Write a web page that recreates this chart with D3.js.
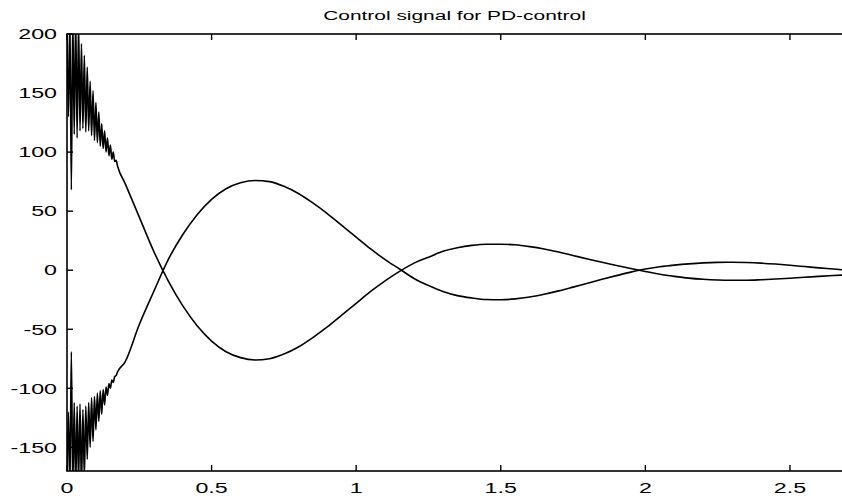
<!DOCTYPE html>
<html>
<head>
<meta charset="utf-8">
<script src="https://cdn.jsdelivr.net/npm/d3@7"></script>
<style>
  body { margin: 0; background: #fff; }
  text { font-family: "Liberation Sans", Arial, sans-serif; fill: #000; }
</style>
</head>
<body>
<svg id="chart" width="842" height="499"></svg>
<script>
// tick labels
const xTicks = [0, 0.5, 1, 1.5, 2, 2.5];
const yTicks = [-150, -100, -50, 0, 50, 100, 150, 200];

// noisy start of the signal (t = 0 .. 0.175)
const tEarly = [0, 0.005, 0.01, 0.015, 0.02, 0.025, 0.03, 0.035, 0.04, 0.045,
    0.05, 0.055, 0.06, 0.065, 0.07, 0.075, 0.08, 0.085, 0.09, 0.095,
    0.1, 0.105, 0.11, 0.115, 0.12, 0.125, 0.13, 0.135, 0.14, 0.145,
    0.15, 0.155, 0.16, 0.165, 0.17, 0.175];
const upperEarly = [215, 130, 215, 68, 215, 115, 215, 112, 210, 118,
    192, 120, 182, 117, 172, 118, 160, 114, 152, 110,
    142, 108, 134, 105, 124, 103, 118, 100, 112, 97,
    106, 94, 100, 92, 93, 88];
const lowerEarly = [-185, -120, -185, -69, -185, -112, -185, -115, -180, -113,
    -185, -118, -175, -115, -160, -112, -150, -108, -145, -107,
    -135, -104, -128, -102, -122, -101, -114, -99, -106, -96,
    -100, -93, -95, -90, -89, -86];

// smooth part (t = 0.20 .. 2.70)
const tSmooth = [0.2, 0.25, 0.3, 0.35, 0.4, 0.45, 0.5, 0.55, 0.6,
    0.65, 0.7, 0.75, 0.8, 0.85, 0.9, 0.95, 1.0, 1.05, 1.1,
    1.15, 1.2, 1.25, 1.3, 1.35, 1.4, 1.45, 1.5, 1.55, 1.6,
    1.65, 1.7, 1.75, 1.8, 1.85, 1.9, 1.95, 2.0, 2.05, 2.1,
    2.15, 2.2, 2.25, 2.3, 2.35, 2.4, 2.45, 2.5, 2.55, 2.6,
    2.65, 2.7];
const upperSmooth = [74, 45, 16, -9, -30, -47, -60, -69, -74,
    -76, -75, -71, -65, -57, -48, -38, -28, -18, -9,
    -1, 6, 11, 16, 19, 21, 22, 22, 21.5, 20,
    18, 15.5, 12.5, 9.5, 6.7, 4, 1.4, -1.1, -3.4, -5.2,
    -6.7, -7.7, -8.3, -8.5, -8.5, -8.1, -7.5, -6.8, -6, -5.2,
    -4.5, -3.9];
const lowerSmooth = [-78, -46, -18, 9, 30, 47, 60, 69, 74,
    76, 75, 71, 65, 57, 48, 38, 28, 18, 9,
    1, -7, -13, -18, -21.5, -23.5, -24.8, -25, -24.3, -22.7,
    -20.3, -17.5, -14.3, -11, -7.7, -4.6, -1.6, 1, 2.9, 4.3,
    5.4, 6.2, 6.6, 6.7, 6.5, 6, 5.2, 4.2, 3.1, 2,
    1, 0];

const titleText = "Control signal for PD-control";

function init() {
    const svg = d3.select("#chart");
    const left = 67, right = 842, top = 34, bottom = 471;
    const stretch = 1.55; // the scanned text is wide

    const x = d3.scaleLinear().domain([0, 2.68]).range([left, right]);
    const y = d3.scaleLinear().domain([-170, 200]).range([bottom, top]);

    const t = tEarly.concat(tSmooth);
    const upper = upperEarly.concat(upperSmooth);
    const lower = lowerEarly.concat(lowerSmooth);

    svg.append("clipPath").attr("id", "plotClip")
        .append("rect")
        .attr("x", left).attr("y", top)
        .attr("width", right - left).attr("height", bottom - top);

    const line = d3.line()
        .x((d, i) => x(t[i]))
        .y(d => y(d))
        .curve(d3.curveMonotoneX);

    const plot = svg.append("g").attr("clip-path", "url(#plotClip)");
    [upper, lower].forEach(series => {
        plot.append("path")
            .datum(series)
            .attr("d", line)
            .attr("fill", "none")
            .attr("stroke", "#000")
            .attr("stroke-width", 1.6);
    });

    // frame
    svg.append("rect")
        .attr("x", left).attr("y", top)
        .attr("width", right - left + 2).attr("height", bottom - top)
        .attr("fill", "none")
        .attr("stroke", "#000")
        .attr("stroke-width", 1.6);

    // ticks point inwards, matlab style
    const tickLen = 6;
    xTicks.forEach(v => {
        svg.append("line")
            .attr("x1", x(v)).attr("x2", x(v))
            .attr("y1", bottom).attr("y2", bottom - tickLen)
            .attr("stroke", "#000").attr("stroke-width", 1.4);
        svg.append("line")
            .attr("x1", x(v)).attr("x2", x(v))
            .attr("y1", top).attr("y2", top + tickLen)
            .attr("stroke", "#000").attr("stroke-width", 1.4);
        svg.append("text")
            .attr("transform", `translate(${x(v)},${bottom + 22}) scale(${stretch},1)`)
            .attr("text-anchor", "middle")
            .style("font-size", "15px")
            .text(v);
    });

    yTicks.forEach(v => {
        svg.append("line")
            .attr("x1", left).attr("x2", left + tickLen)
            .attr("y1", y(v)).attr("y2", y(v))
            .attr("stroke", "#000").attr("stroke-width", 1.4);
        svg.append("text")
            .attr("transform", `translate(${left - 10},${y(v)}) scale(${stretch},1)`)
            .attr("text-anchor", "end")
            .attr("dy", "0.35em")
            .style("font-size", "15px")
            .text(v);
    });

    svg.append("text")
        .attr("transform", `translate(${(left + right) / 2},${top - 14}) scale(${stretch},1)`)
        .attr("text-anchor", "middle")
        .style("font-size", "13.5px")
        .text(titleText);
}

window.onload = init;
</script>
</body>
</html>
